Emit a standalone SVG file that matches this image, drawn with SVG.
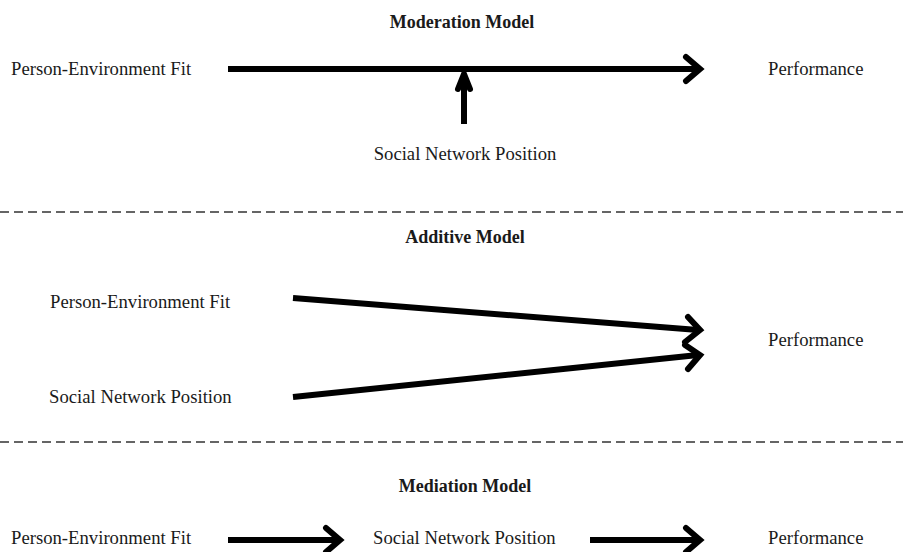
<svg xmlns="http://www.w3.org/2000/svg" width="903" height="552" viewBox="0 0 903 552">
<style>
text{font-family:"Liberation Serif","Times New Roman",serif;font-size:18.7px;fill:#1a1a1a}
.t{font-weight:bold;text-anchor:middle;font-size:18px}
.c{text-anchor:middle}
.ln{stroke:#000;stroke-width:6;fill:none;stroke-linecap:butt}
.hd{stroke:#000;stroke-width:6;fill:none;stroke-linecap:round;stroke-linejoin:miter}
.dash{stroke:#333;stroke-width:1.3;stroke-dasharray:9,5;fill:none}
</style>
<rect width="903" height="552" fill="#fff"/>
<text class="t" x="462" y="28">Moderation Model</text>
<text class="t" x="465" y="243">Additive Model</text>
<text class="t" x="465" y="492">Mediation Model</text>
<g id="mod-pe"><text x="11" y="75">Person-Environment Fit</text></g>
<g id="mod-perf"><text x="768" y="75">Performance</text></g>
<g id="mod-snp"><text class="c" x="465" y="160">Social Network Position</text></g>
<g id="add-pe"><text x="50" y="308">Person-Environment Fit</text></g>
<g id="add-snp"><text x="49" y="403">Social Network Position</text></g>
<g id="add-perf"><text x="768" y="346">Performance</text></g>
<g id="med-pe"><text x="11" y="544">Person-Environment Fit</text></g>
<g id="med-snp"><text x="373" y="544">Social Network Position</text></g>
<g id="med-perf"><text x="768" y="544">Performance</text></g>
<g id="connectors">
<line class="ln" x1="228" y1="69" x2="698" y2="69"/>
<polyline class="hd" points="686,57 700,69 686,81"/>
<line class="ln" x1="464" y1="124" x2="464" y2="74"/>
<polyline class="hd" points="458,89 464,74 470,89"/>
<line class="ln" x1="293" y1="298" x2="698" y2="330"/>
<polyline class="hd" points="688,317 700,330 685,342"/>
<line class="ln" x1="293" y1="397" x2="698" y2="355"/>
<polyline class="hd" points="685,345 700,355 688,369"/>
<line class="ln" x1="228" y1="540" x2="338" y2="540"/>
<polyline class="hd" points="326,528 340,540 326,552"/>
<line class="ln" x1="590" y1="540" x2="698" y2="540"/>
<polyline class="hd" points="686,528 700,540 686,552"/>
<line class="dash" x1="0" y1="212" x2="903" y2="212"/>
<line class="dash" x1="0" y1="442" x2="903" y2="442"/>
</g>
</svg>
